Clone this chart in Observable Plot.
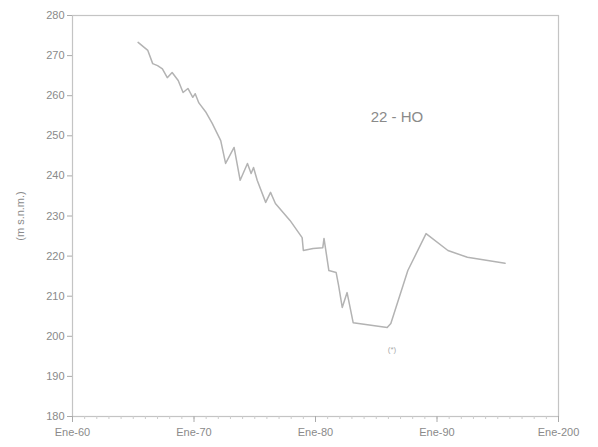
<!DOCTYPE html>
<html>
<head>
<meta charset="utf-8">
<script src="https://cdn.jsdelivr.net/npm/d3@7"></script>
<script src="https://cdn.jsdelivr.net/npm/@observablehq/plot@0.6"></script>
<style>
  html, body { margin: 0; padding: 0; background: #fff; }
</style>
</head>
<body>
<div id="chart"></div>
<script>
const years = [1965.4, 1966.2, 1966.6, 1967.0, 1967.4, 1967.8, 1968.2, 1968.7, 1969.1, 1969.5, 1969.9, 1970.1, 1970.4, 1971.0, 1971.5, 1972.2, 1972.6, 1973.3, 1973.8, 1974.4, 1974.7, 1974.9, 1975.2, 1975.9, 1976.3, 1976.7, 1977.9, 1978.9, 1979.0, 1979.8, 1980.6, 1980.7, 1981.1, 1981.7, 1981.9, 1982.2, 1982.6, 1983.1, 1985.9, 1986.2, 1987.6, 1989.1, 1990.9, 1992.5, 1995.6];
const levels = [273.3, 271.3, 268.0, 267.5, 266.7, 264.5, 265.8, 263.8, 260.8, 261.8, 259.6, 260.5, 258.2, 255.8, 253.1, 248.8, 243.1, 247.1, 238.9, 243.1, 240.6, 242.1, 238.9, 233.4, 235.9, 233.1, 228.9, 224.6, 221.4, 221.9, 222.1, 224.4, 216.4, 215.9, 212.7, 207.2, 210.9, 203.4, 202.2, 203.2, 216.4, 225.6, 221.4, 219.7, 218.2];
const xTicks = [1960, 1970, 1980, 1990, 2000];
const xTickLabels = ["Ene-60", "Ene-70", "Ene-80", "Ene-90", "Ene-200"];
const minorTicks = d3.range(1960, 2001, 1);
const yTicks = [180, 190, 200, 210, 220, 230, 240, 250, 260, 270, 280];
const yLabel = "(m s.n.m.)";
const wellLabel = ["22 - HO"];
const noteLabel = ["(*)"];

const data = years.map((y, i) => ({year: y, level: levels[i]}));

const chart = Plot.plot({
  width: 598,
  height: 447,
  marginLeft: 72,
  marginRight: 40,
  marginTop: 15,
  marginBottom: 31,
  style: {background: "#fff", color: "#8a8a8a", fontFamily: "Liberation Sans", fontSize: "11px"},
  x: {domain: [1960, 2000]},
  y: {domain: [180, 280]},
  marks: [
    Plot.frame({stroke: "#c4c4c4", strokeWidth: 1.2}),
    Plot.axisX({ticks: minorTicks, tickSize: 3, tickFormat: null, text: null, label: null, stroke: "#cccccc"}),
    Plot.axisX({ticks: xTicks, tickSize: 6, tickPadding: 6, tickFormat: (d) => xTickLabels[xTicks.indexOf(d)], label: null, stroke: "#aaa"}),
    Plot.axisY({ticks: yTicks, tickSize: 5, tickPadding: 3, tickFormat: (d) => String(d), label: yLabel, labelAnchor: "center", labelArrow: "none", labelOffset: 56, stroke: "#aaa"}),
    Plot.line(data, {x: "year", y: "level", stroke: "#b3b3b3", strokeWidth: 1.5}),
    Plot.text(wellLabel, {x: () => 1986.7, y: () => 254.6, text: (d) => d, fontSize: 15, fill: "#8a8a8a"}),
    Plot.text(noteLabel, {x: () => 1986.3, y: () => 196.6, text: (d) => d, fontSize: 8, fill: "#aaa"})
  ]
});
document.getElementById("chart").appendChild(chart);
</script>
</body>
</html>
